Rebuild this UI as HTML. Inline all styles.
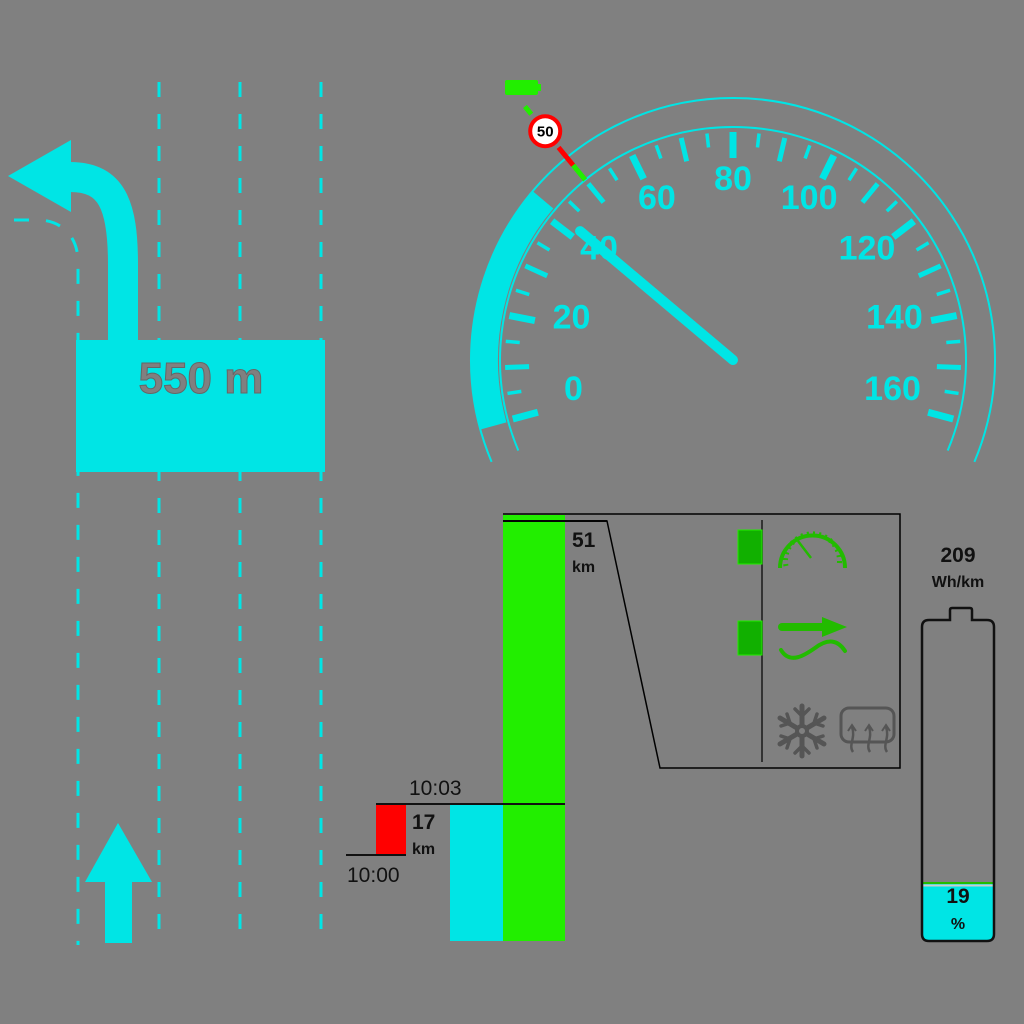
<!DOCTYPE html>
<html><head><meta charset="utf-8"><style>
html,body{margin:0;padding:0;background:#808080;}
svg{display:block;font-family:"Liberation Sans",sans-serif;}
</style></head><body>
<svg id="root" width="1024" height="1024" viewBox="0 0 1024 1024">
<rect width="1024" height="1024" fill="#808080"/>
<g id="nav">
  <g stroke="#00e5e5" stroke-width="3" stroke-dasharray="15 17" fill="none">
    <line x1="159" y1="82" x2="159" y2="945"/>
    <line x1="240" y1="82" x2="240" y2="945"/>
    <line x1="321" y1="82" x2="321" y2="945"/>
    <path d="M14,220 L38,220 C60,220 78,235 78,262 L78,945"/>
  </g>
  <rect x="76" y="340" width="249" height="132" fill="#00e5e5"/>
  <path d="M123,342 L123,265 C123,205 112,177 70,177" stroke="#00e5e5" stroke-width="30" fill="none"/>
  <polygon points="8,176 71,140 71,212" fill="#00e5e5"/>
  <text x="201" y="393" text-anchor="middle" font-size="44" font-weight="bold" fill="#808080" stroke="#666" stroke-width="1">550 m</text>
  <rect x="105" y="880" width="27" height="63" fill="#00e5e5"/>
  <polygon points="85,882 118,823 152,882" fill="#00e5e5"/>
</g>
<g id="speedo"></g>
<g id="trip"></g>
<g>
  <polyline points="503,514 900,514 900,768 660,768 607,521 503,521" fill="none" stroke="#000" stroke-width="1.5"/>
  <line x1="762" y1="520" x2="762" y2="762" stroke="#333" stroke-width="2"/>
  <rect x="738" y="530" width="24" height="34" fill="#11b000" stroke="#22ee00" stroke-width="1"/>
  <rect x="738" y="621" width="24" height="34" fill="#11b000" stroke="#22ee00" stroke-width="1"/>
  <g fill="none" stroke="#22bb00">
    <path d="M780,568 A32,32 0 1 1 845,568" stroke-width="4"/>
    <path d="M786,566 A27,27 0 1 1 839,566" stroke-width="5" stroke-dasharray="2 4"/>
    <line x1="798" y1="541" x2="811" y2="558" stroke-width="2.5"/>
  </g>
  <g stroke="#22bb00" fill="none" stroke-linecap="round">
    <line x1="782" y1="627" x2="825" y2="627" stroke-width="8"/>
    <polygon points="822,617 847,627 822,637" fill="#22bb00" stroke="none"/>
    <path d="M781,650 C790,665 805,655 815,648 C828,638 838,640 845,651" stroke-width="4"/>
  </g>
  <g stroke="#555" stroke-width="5" stroke-linecap="round" fill="none">
    <line x1="802" y1="706" x2="802" y2="756"/><line x1="780" y1="718" x2="824" y2="744"/><line x1="780" y1="744" x2="824" y2="718"/>
    <path d="M795,709 L802,716 L809,709 M795,753 L802,746 L809,753 M781,726 L790,723 L787,714 M823,726 L814,723 L817,714 M781,736 L790,739 L787,748 M823,736 L814,739 L817,748" stroke-width="3.5"/>
    <circle cx="802" cy="731" r="5" fill="#808080" stroke-width="4"/>
  </g>
  <g stroke="#555" fill="none" stroke-width="3">
    <rect x="841" y="708" width="53" height="34" rx="8"/>
    <path d="M853,752 C848,745 856,738 852,727 M870,752 C865,745 873,738 869,727 M887,752 C882,745 890,738 886,727" stroke-width="2.5"/>
    <path d="M848,731 L852,725 L856,731 M865,731 L869,725 L873,731 M882,731 L886,725 L890,731" stroke-width="2"/>
  </g>
</g>
<g>
  <text x="958" y="562" text-anchor="middle" font-size="21" font-weight="bold" fill="#111">209</text>
  <text x="958" y="587" text-anchor="middle" font-size="16" font-weight="bold" fill="#111">Wh/km</text>
  <path d="M922,884 L994,884 L994,934 Q994,941 987,941 L929,941 Q922,941 922,934 Z" fill="#00e5e5"/>
  <line x1="923" y1="883" x2="993" y2="883" stroke="#22bb00" stroke-width="2"/>
  <line x1="923" y1="885.5" x2="993" y2="885.5" stroke="#ccc" stroke-width="2"/>
  <path d="M929,620 L950,620 L950,610 Q950,608 952,608 L970,608 Q972,608 972,610 L972,620 L987,620 Q994,620 994,627 L994,934 Q994,941 987,941 L929,941 Q922,941 922,934 L922,627 Q922,620 929,620 Z" fill="none" stroke="#111" stroke-width="2.5"/>
  <text x="958" y="903" text-anchor="middle" font-size="21" font-weight="bold" fill="#111">19</text>
  <text x="958" y="929" text-anchor="middle" font-size="16" font-weight="bold" fill="#111">%</text>
</g>
</svg>
<script>
const NS="http://www.w3.org/2000/svg";
// speedometer data
const speedValue=42;
const speedLimit=50;
const tickLabels=[0,20,40,60,80,100,120,140,160];
// trip data
const tripTimes=["10:00","10:03"];
const tripDistances=[17,51];

function mk(parent,tag,attrs){const e=document.createElementNS(NS,tag);for(const k in attrs)e.setAttribute(k,attrs[k]);parent.appendChild(e);return e;}
const cx=733,cy=360,maxS=160,startA=195,sweep=210;
function ang(v){return (startA - v/maxS*sweep)*Math.PI/180;}
function pt(v,r){const a=ang(v);return [cx+r*Math.cos(a),cy-r*Math.sin(a)];}
function labAng(v){return (190 - v/maxS*200)*Math.PI/180;}
function arcPath(v0,v1,r){const p0=pt(v0,r),p1=pt(v1,r);const large=Math.abs(v1-v0)/maxS*sweep>180?1:0;return `M${p0[0]},${p0[1]} A${r},${r} 0 ${large} 1 ${p1[0]},${p1[1]}`;}
const sp=document.getElementById('speedo');
const b=mk(sp,'path',{d:arcPath(-0.3,speedValue,248.5),stroke:'#00e5e5','stroke-width':27,fill:'none'});


const oa=mk(sp,'path',{d:arcPath(-6,166,262),stroke:'#00e5e5','stroke-width':2,fill:'none'});


const ia=mk(sp,'path',{d:arcPath(-6,166,233),stroke:'#00e5e5','stroke-width':2,fill:'none'});


for(let v=0;v<=maxS;v+=5){
  const major=v%20===0, mid=v%10===0;
  const rIn=major?202:(mid?204:214), w=major?7:(mid?5:3.5);
  const p0=pt(v,rIn),p1=pt(v,228);
  const t=mk(sp,'line',{x1:p0[0],y1:p0[1],x2:p1[0],y2:p1[1],stroke:'#00e5e5','stroke-width':w});
  
  
}
tickLabels.forEach(v=>{
  const a=labAng(v), r=162+20*Math.max(0,Math.sin(a));
  const x=cx+r*Math.cos(a), y=cy-r*Math.sin(a);
  const t=mk(sp,'text',{x:x,y:y+12,'text-anchor':'middle','font-size':34,'font-weight':'bold',fill:'#00e5e5'});
  t.textContent=v;
  
  
});
{const p0=pt(speedLimit,233),p1=pt(speedLimit,252),p2=pt(speedLimit,275),p3=pt(speedLimit,318),p4=pt(speedLimit,328);
 const g=mk(sp,'g',{});
 
 
 mk(g,'line',{x1:p0[0],y1:p0[1],x2:p1[0],y2:p1[1],stroke:'#22ee00','stroke-width':5});
 mk(g,'line',{x1:p1[0],y1:p1[1],x2:p2[0],y2:p2[1],stroke:'#ff0000','stroke-width':5});
 mk(g,'line',{x1:p3[0],y1:p3[1],x2:p4[0],y2:p4[1],stroke:'#22ee00','stroke-width':5});
 const c=pt(speedLimit,296);
 mk(g,'circle',{cx:c[0],cy:c[1],r:15,fill:'#fff',stroke:'#ff0000','stroke-width':4});
 const t=mk(g,'text',{x:c[0],y:c[1]+5.5,'text-anchor':'middle','font-size':15,'font-weight':'bold',fill:'#000'});
 t.textContent=speedLimit;
 mk(g,'rect',{x:505,y:80,width:33,height:15,rx:2,fill:'#22ee00'});
 mk(g,'rect',{x:537,y:84,width:4,height:7,fill:'#22ee00'});
}
{const p=pt(speedValue,200);
 const n=mk(sp,'line',{x1:cx,y1:cy,x2:p[0],y2:p[1],stroke:'#00e5e5','stroke-width':10,'stroke-linecap':'round'});
 
 
}
const tr=document.getElementById('trip');
const baseY=941, kmScale=(941-521)/tripDistances[1];
function ty(i){return 855-i*51;}
const r=mk(tr,'rect',{x:376,y:ty(1),width:30,height:ty(0)-ty(1),fill:'#ff0000'});


const cyb=mk(tr,'rect',{x:450,y:ty(1),width:53,height:baseY-ty(1),fill:'#00e5e5'});


const gy=baseY-tripDistances[1]*kmScale;
const gb=mk(tr,'rect',{x:503,y:gy-6,width:62,height:baseY-gy+6,fill:'#22ee00'});


mk(tr,'line',{x1:346,y1:ty(0),x2:406,y2:ty(0),stroke:'#111','stroke-width':2});
mk(tr,'line',{x1:376,y1:ty(1),x2:565,y2:ty(1),stroke:'#111','stroke-width':2});
mk(tr,'line',{x1:503,y1:gy,x2:607,y2:gy,stroke:'#111','stroke-width':2});
function txt(x,y,s,sz,w,name){const t=mk(tr,'text',{x:x,y:y,'font-size':sz,'font-weight':w,fill:'#111'});t.textContent=s;}
txt(347,882,tripTimes[0],21,'normal','start-time-label');
txt(409,795,tripTimes[1],21,'normal','current-time-label');
txt(412,829,tripDistances[0],21,'bold','trip-distance-value');
txt(412,854,'km',16,'bold','trip-distance-unit');
txt(572,547,tripDistances[1],21,'bold','range-value');
txt(572,572,'km',16,'bold','range-unit');
</script>
</body></html>
